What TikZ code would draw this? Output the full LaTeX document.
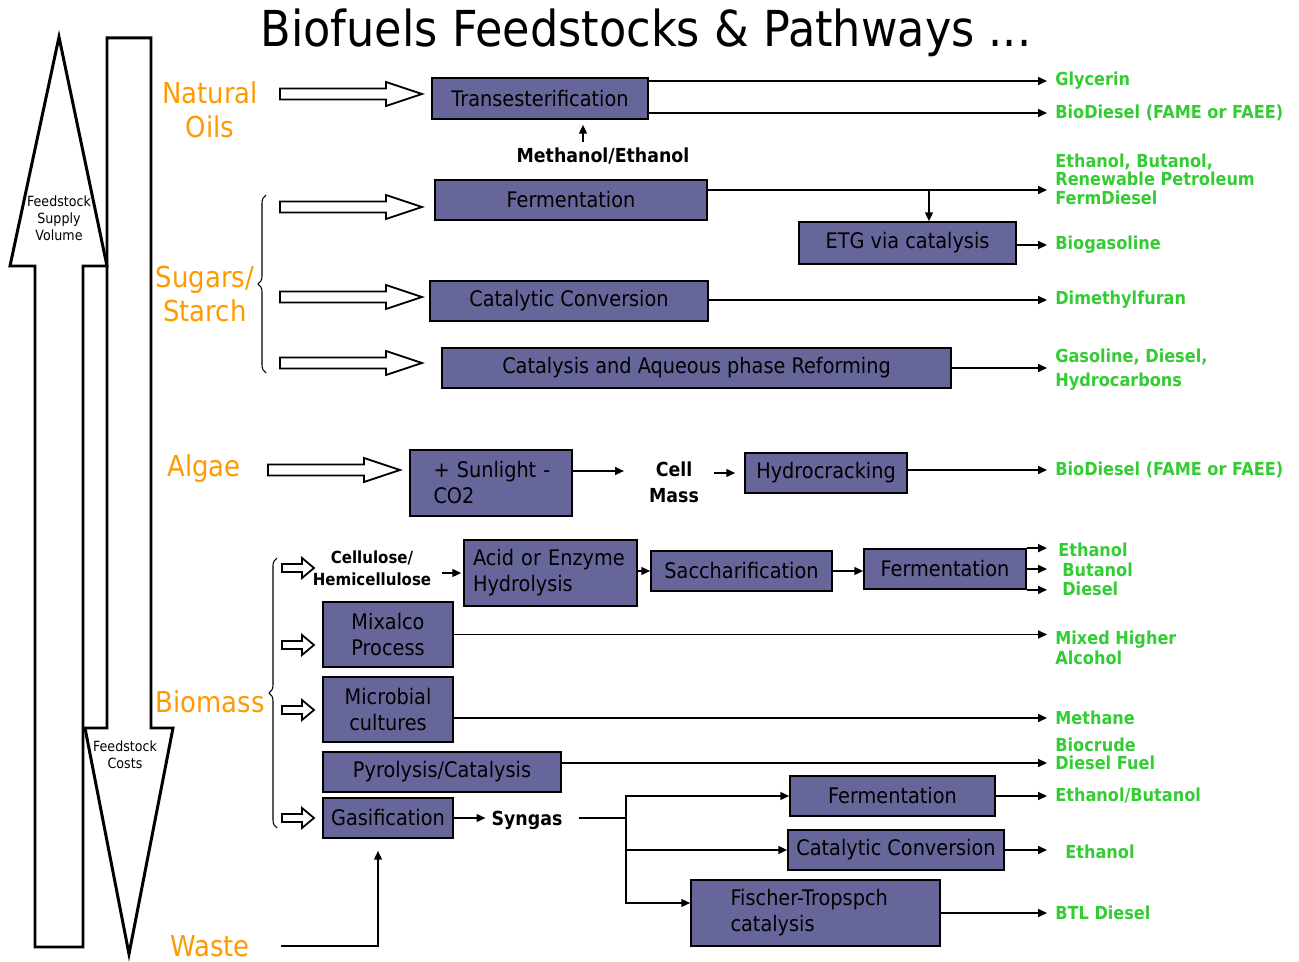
\documentclass[tikz,border=0pt]{standalone}
\usepackage{fontspec}
\setmainfont{DejaVu Sans}[FakeStretch=0.9]
\usetikzlibrary{arrows.meta, positioning, decorations.pathreplacing}
\definecolor{bproc}{HTML}{66669A}
\definecolor{borange}{HTML}{FF9900}
\definecolor{bgreen}{HTML}{33CC33}
\tikzset{
  proc/.style={draw=black, fill=bproc, line width=1pt, inner sep=0pt, align=center,
               minimum height=0.8cm, font=\fontsize{12.2}{14.8}\selectfont},
  feed/.style={text=borange, align=center, font=\fontsize{16.4}{19.3}\selectfont},
  fuel/.style={text=bgreen, anchor=west, align=left, inner xsep=0.16cm, inner ysep=1pt,
               font=\bfseries\fontsize{10.2}{10.5}\selectfont},
  mid/.style={align=center, font=\bfseries\fontsize{11}{14.8}\selectfont},
  arr/.style={-{Triangle[length=5pt,width=4.5pt]}, line width=0.8pt},
  hollow/.style={draw=black, line width=1pt, fill=white, line join=miter},
  bigarr/.pic={\draw[hollow] (0,-5.5) -- (#1-36,-5.5) -- (#1-36,-12) -- (#1,0)
                 -- (#1-36,12) -- (#1-36,5.5) -- (0,5.5) -- cycle;},
  smallarr/.pic={\draw[hollow] (0,-4) -- (20,-4) -- (20,-10) -- (32,0)
                 -- (20,10) -- (20,4) -- (0,4) -- cycle;},
}
\begin{document}
\begin{tikzpicture}[x=0.02cm, y=-0.02cm]
  \useasboundingbox (0,0) rectangle (1299,962);
  % supply / cost arrows
  \draw[line width=1.7pt] (35,947) -- (35,266) -- (10,266) -- (59,37) -- (107,266)
    -- (83,266) -- (83,947) -- cycle;
  \draw[line width=1.7pt] (107,38) -- (151,38) -- (151,728) -- (173,728) -- (129,954)
    -- (85,728) -- (107,728) -- cycle;
  \node[align=center, font=\fontsize{8}{9.7}\selectfont] (supply) at (59,218) {Feedstock\\Supply\\Volume};
  \node[align=center, font=\fontsize{8}{9.7}\selectfont] (costs) at (125,755) {Feedstock\\Costs};
  \node[font=\fontsize{28.2}{32}\selectfont] (title) at (646,33) {Biofuels Feedstocks \& Pathways ...};

  % natural oils
  \node[feed] (oils) at (210,110) {Natural\\Oils};
  \pic at (280,94) {bigarr=142};
  \node[proc, minimum width=4.32cm, minimum height=0.82cm] (trans) at (540,98.5) {Transesterification};
  \node[mid] (meth) at (603,156) {Methanol/Ethanol};
  \draw[arr, shorten >=0.1cm] ([xshift=-0.4cm]meth.north) -- ([xshift=-0.4cm]meth.north |- trans.south);
  \node[fuel] (glyc) at (1047,81) {Glycerin};
  \node[fuel] (biod1) at (1047,113) {BioDiesel (FAME or FAEE)};
  \draw[arr] (trans.east |- glyc.west) -- (glyc.west);
  \draw[arr] (trans.east |- biod1.west) -- (biod1.west);

  % sugars / starch
  \node[feed] (sugar) at (205,294) {Sugars/\\Starch};
  \draw[decorate, decoration={brace, amplitude=0.16cm}, line width=0.6pt] (266,373) -- (266,195);
  \foreach \y in {207,297,363} \pic at (280,\y) {bigarr=142};
  \node[proc, minimum width=5.44cm] (ferm1) at (571,200) {Fermentation};
  \node[fuel] (fuels) at (1047,179) {Ethanol, Butanol,\\Renewable Petroleum\\FermDiesel};
  \draw[arr] ([yshift=0.2cm]ferm1.east) coordinate (f1) -- (f1 -| fuels.west);
  \node[proc, minimum width=4.34cm, minimum height=0.84cm] (etg) at (907.5,243) {ETG via catalysis};
  \draw[arr] ([xshift=0.43cm]etg.north |- f1) -- ([xshift=0.43cm]etg.north);
  \node[fuel] (biogas) at (1047,245) {Biogasoline};
  \draw[arr] (etg.east |- biogas.west) -- (biogas.west);
  \node[proc, minimum width=5.56cm] (conv1) at (569,301) {Catalytic Conversion};
  \node[fuel] (dmf) at (1047,300) {Dimethylfuran};
  \draw[arr] (conv1.east |- dmf.west) -- (dmf.west);
  \node[proc, minimum width=10.18cm] (apr) at (696.5,368) {Catalysis and Aqueous phase Reforming};
  \node[fuel, font=\bfseries\fontsize{10.2}{13.7}\selectfont] (gasol) at (1047,370) {Gasoline, Diesel,\\Hydrocarbons};
  \draw[arr] (apr.east) -- (apr.east -| gasol.west);

  % algae
  \node[feed] (algae) at (204,469) {Algae};
  \pic at (268,470) {bigarr=132};
  \node[proc, minimum width=3.24cm, minimum height=1.32cm, align=left, text width=2.3cm,
        inner xsep=0.47cm] (sun) at (491,483) {\mbox{+ Sunlight -}\\CO2};
  \node[mid] (cell) at (674,482) {Cell\\Mass};
  \draw[arr, shorten >=0.38cm] ([yshift=0.24cm]sun.east) coordinate (s1) -- (s1 -| cell.west);
  \node[proc, minimum width=3.24cm] (hydro) at (826,473) {Hydrocracking};
  \draw[arr, shorten <=0.18cm, shorten >=0.18cm] (cell.east |- hydro.west) -- (hydro.west);
  \node[fuel] (biod2) at (1047,470) {BioDiesel (FAME or FAEE)};
  \draw[arr] (hydro.east |- biod2.west) -- (biod2.west);

  % biomass
  \node[feed] (biomass) at (210,702) {Biomass};
  \draw[decorate, decoration={brace, amplitude=0.16cm}, line width=0.6pt] (277,828) -- (277,558);
  \foreach \y in {568,645,710,818} \pic at (282,\y) {smallarr};
  \node[mid, font=\bfseries\fontsize{9.5}{12.5}\selectfont] (cellu) at (372,568) {Cellulose/\\Hemicellulose};
  \node[proc, minimum width=3.46cm, minimum height=1.32cm, align=left, text width=3.1cm,
        inner xsep=0.18cm] (acid) at (550.5,573) {\mbox{Acid or Enzyme}\\Hydrolysis};
  \draw[arr, shorten <=0.1cm, shorten >=0.04cm] (cellu.east |- acid.west) -- (acid.west);
  \node[proc, minimum width=3.62cm] (sacch) at (741.5,571) {Saccharification};
  \draw[arr] (acid.east |- sacch.west) -- (sacch.west);
  \node[proc, minimum width=3.24cm] (ferm2) at (945,569) {Fermentation};
  \draw[arr] (sacch.east) -- (sacch.east -| ferm2.west);
  \node[fuel, inner xsep=0.22cm] (eth1) at (1047,550) {Ethanol};
  \node[fuel, inner xsep=0.3cm] (but1) at (1047,570) {Butanol};
  \node[fuel, inner xsep=0.3cm] (die1) at (1047,589) {Diesel};
  \draw[arr] (ferm2.north east) -- (eth1.west |- ferm2.north east);
  \draw[arr] (ferm2.east) -- (but1.west |- ferm2.east);
  \draw[arr] (ferm2.south east) -- (die1.west |- ferm2.south east);
  \node[proc, minimum width=2.6cm, minimum height=1.3cm] (mixal) at (388,634.5) {Mixalco\\Process};
  \node[fuel, font=\bfseries\fontsize{10.2}{11.4}\selectfont] (mixed) at (1047,648) {Mixed Higher\\Alcohol};
  \draw[arr] (mixal.east) -- (mixal.east -| mixed.west);
  \node[proc, minimum width=2.6cm, minimum height=1.3cm] (microb) at (388,709.5) {Microbial\\cultures};
  \node[fuel] (methane) at (1047,718) {Methane};
  \draw[arr] (microb.east |- methane.west) -- (methane.west);
  \node[proc, minimum width=4.76cm] (pyro) at (442,772) {Pyrolysis/Catalysis};
  \node[fuel] (biocr) at (1047,754) {Biocrude\\Diesel Fuel};
  \draw[arr] ([yshift=0.18cm]pyro.east) coordinate (p1) -- (p1 -| biocr.west);
  \node[proc, minimum width=2.6cm] (gasif) at (388,818) {Gasification};
  \node[mid] (syngas) at (527,820) {Syngas};
  \draw[arr] (gasif.east) -- (gasif.east -| syngas.west);
  \coordinate (split) at (626,818);
  \draw[line width=0.8pt, shorten <=0.2cm] (syngas.east |- split) -- (split);
  \node[proc, minimum width=4.1cm] (ferm3) at (892.5,796) {Fermentation};
  \node[proc, minimum width=4.32cm] (conv2) at (896,850) {Catalytic Conversion};
  \node[proc, minimum width=4.98cm, minimum height=1.32cm, align=left, text width=3.4cm,
        inner xsep=0.79cm] (ft) at (815.5,913) {Fischer-Tropspch\\catalysis};
  \draw[arr] (split) |- (ferm3.west);
  \draw[arr] (split) |- (conv2.west);
  \draw[arr] (split) |- ([yshift=0.2cm]ft.west);
  \node[fuel] (ethbut) at (1047,796) {Ethanol/Butanol};
  \node[fuel, inner xsep=0.36cm] (eth2) at (1047,852) {Ethanol};
  \node[fuel] (btl) at (1047,913) {BTL Diesel};
  \draw[arr] (ferm3.east) -- (ferm3.east -| ethbut.west);
  \draw[arr] (conv2.east) -- (conv2.east -| eth2.west);
  \draw[arr] (ft.east) -- (ft.east -| btl.west);

  % waste
  \node[feed] (waste) at (210,946) {Waste};
  \draw[arr, shorten <=0.5cm, shorten >=0.24cm] (waste.east) -| ([xshift=-0.2cm]gasif.south);
\end{tikzpicture}
\end{document}
